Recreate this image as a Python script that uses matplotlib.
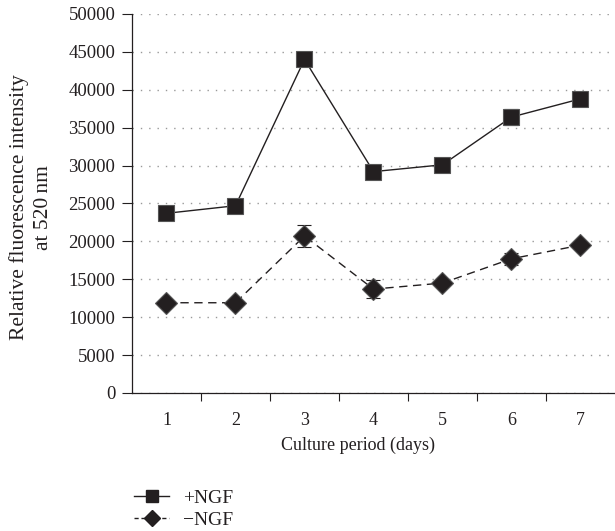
import matplotlib.pyplot as plt
from matplotlib.lines import Line2D
import numpy as np

plt.rcParams["font.family"] = ["Liberation Serif", "DejaVu Serif"]

days = ["1", "2", "3", "4", "5", "6", "7"]
plus_ngf = [23700, 24700, 44000, 29200, 30100, 36400, 38800]
plus_err = [0, 0, 0, 0, 0, 1000, 0]
minus_ngf = [11900, 11900, 20700, 13700, 14500, 17700, 19500]
minus_err = [0, 0, 1500, 1200, 0, 800, 0]

ink = "#231f20"

fig = plt.figure(figsize=(6.15, 5.31), dpi=100)
ax = fig.add_axes([0.2146, 0.26, 0.7854, 0.7137])

x = np.arange(len(days))
ax.errorbar(x, plus_ngf, yerr=plus_err, color=ink, lw=1.0, marker="s",
            ms=12, mfc=ink, mec="#555555", mew=0.8, capsize=5, elinewidth=1.0,
            capthick=1.0, zorder=3)
ax.errorbar(x, minus_ngf, yerr=minus_err, color=ink, lw=1.0, ls=(0, (6, 4)),
            marker="D", ms=11, mfc=ink, mec="#555555", mew=0.8, capsize=5,
            elinewidth=1.0, capthick=1.0, zorder=3)

ax.set_xlim(-0.5, len(days) - 0.5)
ax.set_ylim(0, 50000)
ax.set_yticks(np.arange(0, 50001, 5000))
ax.set_xticks(x)
ax.set_xticklabels(days)
ax.set_xticks(np.arange(0.5, len(days) - 0.5, 1), minor=True)
ax.tick_params(axis="x", which="major", length=0, labelsize=13, pad=14, colors=ink)
ax.tick_params(axis="x", which="minor", length=6, width=0.8, direction="out", color=ink)
ax.tick_params(axis="y", length=7, width=0.8, direction="out", labelsize=13.5,
               pad=5, colors=ink)

ax.grid(axis="y", color="#999999", ls=(0, (1, 5)), lw=1.0)
ax.set_axisbelow(True)
for s in ("top", "right"):
    ax.spines[s].set_visible(False)
for s in ("left", "bottom"):
    ax.spines[s].set_color(ink)
    ax.spines[s].set_linewidth(0.9)

ax.set_xlabel("Culture period (days)", fontsize=13, color=ink)
ax.xaxis.set_label_coords(0.468, -0.115)
ax.set_ylabel("Relative fluorescence intensity\nat 520\u2009nm", fontsize=15.5,
              color=ink, linespacing=1.4)
ax.yaxis.set_label_coords(-0.163, 0.489)

handles = [
    Line2D([], [], color=ink, lw=1.0, marker="s", ms=8, mfc=ink, mec=ink),
    Line2D([], [], color=ink, lw=1.0, ls=(0, (3, 2)), marker="D", ms=8, mfc=ink, mec=ink),
]
fig.legend(handles, ["+NGF", "\u2212NGF"], loc="upper left",
           bbox_to_anchor=(0.19, 0.112), frameon=False, fontsize=14,
           handlelength=1.8, handletextpad=0.7, labelspacing=0.25,
           labelcolor=ink)

fig.savefig("out.png", dpi=100)
